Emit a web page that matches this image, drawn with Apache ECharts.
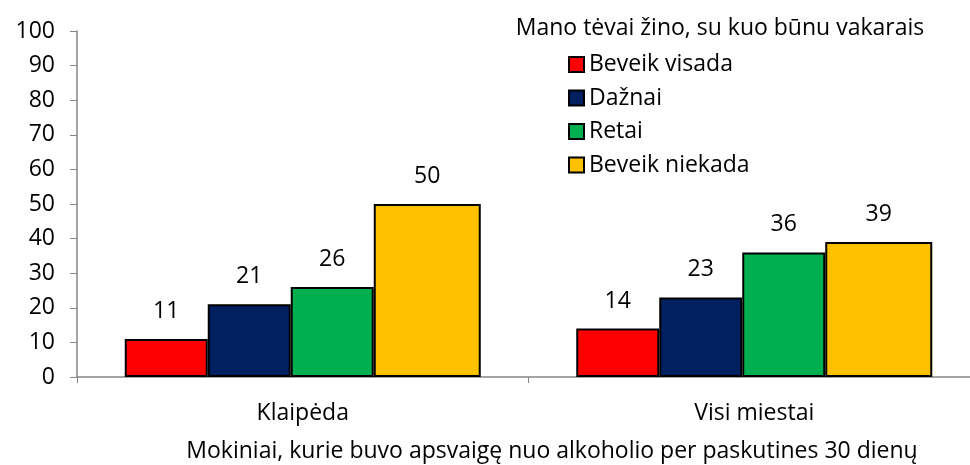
<!DOCTYPE html>
<html>
<head>
<meta charset="utf-8">
<script src="https://cdn.jsdelivr.net/npm/echarts@6/dist/echarts.min.js"></script>
<style>
  html, body { margin: 0; padding: 0; background: #ffffff; }
  #main { width: 970px; height: 465px; }
</style>
</head>
<body>
<div id="main"></div>
<script>
var categories = ['Klaipėda', 'Visi miestai'];
var seriesNames = ['Beveik visada', 'Dažnai', 'Retai', 'Beveik niekada'];
var almostAlways = [11, 14];
var often = [21, 23];
var rarely = [26, 36];
var almostNever = [50, 39];
var yTicks = [0, 10, 20, 30, 40, 50, 60, 70, 80, 90, 100];

var colors = ['#FF0000', '#002060', '#00B050', '#FFC000'];
var widths = [83, 83, 83, 107];
var values = [almostAlways, often, rarely, almostNever];
var fontFamily = 'Open Sans';
var fontSize = 23;

var chart = echarts.init(document.getElementById('main'));

var series = [];
for (var i = 0; i < seriesNames.length; i++) {
  series.push({
    name: seriesNames[i],
    type: 'bar',
    data: values[i],
    barWidth: widths[i],
    barGap: '0%',
    itemStyle: {
      color: colors[i],
      borderColor: '#000000',
      borderWidth: 2
    },
    label: {
      show: true,
      position: 'top',
      distance: 16,
      color: '#000000',
      fontSize: fontSize,
      fontFamily: fontFamily
    },
    animation: false
  });
}

chart.setOption({
  backgroundColor: '#ffffff',
  graphic: [
    {
      type: 'text',
      style: {
        text: 'Mano tėvai žino, su kuo būnu vakarais',
        x: 720, y: 28,
        textAlign: 'center', textVerticalAlign: 'middle',
        fill: '#000000',
        font: fontSize + 'px "' + fontFamily + '"'
      }
    },
    {
      type: 'text',
      style: {
        text: 'Mokiniai, kurie buvo apsvaigę nuo alkoholio per paskutines 30 dienų',
        x: 552, y: 451,
        textAlign: 'center', textVerticalAlign: 'middle',
        fill: '#000000',
        font: fontSize + 'px "' + fontFamily + '"'
      }
    }
  ],
  legend: {
    orient: 'vertical',
    left: 563,
    top: 48,
    itemWidth: 15,
    itemHeight: 15,
    itemGap: 10.5,
    icon: 'rect',
    textStyle: { fontSize: fontSize, lineHeight: 20, color: '#000000', fontFamily: fontFamily },
    data: seriesNames
  },
  grid: {
    left: 77,
    top: 31,
    bottom: 88,
    width: 903,
    outerBoundsMode: 'none',
    containLabel: false
  },
  xAxis: {
    type: 'category',
    data: categories,
    axisLine: { lineStyle: { color: '#868686', width: 1.5 } },
    axisTick: { show: true, length: 6, lineStyle: { color: '#868686' } },
    axisLabel: { color: '#000000', fontSize: fontSize, margin: 25, fontFamily: fontFamily }
  },
  yAxis: {
    type: 'value',
    min: yTicks[0],
    max: yTicks[yTicks.length - 1],
    interval: 10,
    splitLine: { show: false },
    axisLine: { show: true, lineStyle: { color: '#868686', width: 1.5 } },
    axisTick: { show: true, length: 7, lineStyle: { color: '#868686' } },
    axisLabel: { color: '#000000', fontSize: fontSize, margin: 22, fontFamily: fontFamily }
  },
  series: series
});
</script>
</body>
</html>
